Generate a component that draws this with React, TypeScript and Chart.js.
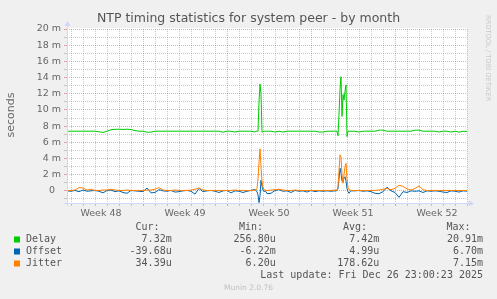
import React, { useEffect, useRef } from "react";
import { Chart, registerables } from "chart.js";

Chart.register(...registerables);

// ---- Data (hours since first midnight; values in milliseconds) ----
const HOURS = [
  -8, 0, 8, 16, 24, 32, 40, 48, 56, 64, 72, 80, 88, 96, 104, 112, 120, 128, 136, 144,
  152, 160, 168, 176, 184, 192, 200, 208, 216, 224, 232, 240, 248, 256, 264, 272, 280, 288, 296, 304,
  312, 320, 328, 336, 344, 352, 360, 368,
  370, 372, 374, 376, 378, 380, 382, 384, 386, 388, 390,
  392, 400, 408, 416, 424, 432, 440, 448, 456, 464, 472, 480, 488, 496, 504, 512, 520, 528,
  530, 532, 534, 536, 538, 540, 542, 544, 546, 548, 550, 552, 554, 556, 558, 560,
  568, 576, 584, 592, 600, 608, 616, 624, 632, 640, 648, 656, 664, 672, 680, 688, 696, 704, 712, 720,
  728, 736, 744, 752, 760, 768, 776, 784, 792,
];

const DELAY = [
  7.37, 7.37, 7.37, 7.37, 7.37, 7.37, 7.37, 7.37, 7.3, 7.22,
  7.37, 7.55, 7.6, 7.62, 7.58, 7.62, 7.58, 7.45, 7.37, 7.37,
  7.25, 7.25, 7.37, 7.37, 7.37, 7.37, 7.37, 7.37, 7.37, 7.37,
  7.37, 7.37, 7.37, 7.37, 7.37, 7.37, 7.37, 7.37, 7.37, 7.25,
  7.37, 7.37, 7.27, 7.37, 7.37, 7.37, 7.37, 7.27,
  7.37, 7.37, 7.37, 11.0, 13.2, 12.0, 7.25, 7.3, 7.37, 7.37, 7.37,
  7.37, 7.37, 7.27, 7.37, 7.27, 7.37, 7.37, 7.37, 7.37, 7.37, 7.37, 7.37, 7.37, 7.27, 7.27, 7.37, 7.37, 7.37,
  7.37, 7.37, 6.8, 9.5, 12.5, 14.1, 9.2, 11.9, 11.2, 12.3, 13.1, 6.7, 7.37, 7.37, 7.37, 7.37,
  7.37, 7.27, 7.37, 7.37, 7.37, 7.37, 7.5, 7.5, 7.37, 7.37, 7.37, 7.37, 7.37, 7.37, 7.37, 7.5, 7.5, 7.37, 7.37, 7.37,
  7.37, 7.27, 7.37, 7.37, 7.27, 7.37, 7.25, 7.37, 7.32,
];

const OFFSET = [
  0.0, -0.05, 0.05, -0.1, 0.1, -0.05, 0.0, 0.05, -0.05, -0.25,
  0.05, 0.1, -0.1, 0.0, -0.2, -0.3, 0.05, 0.0, -0.05, -0.1,
  0.35, -0.25, -0.2, 0.15, 0.0, -0.05, 0.05, -0.15, -0.1, 0.0,
  0.05, -0.05, -0.4, 0.3, -0.1, 0.0, 0.05, -0.05, -0.2, 0.0,
  0.05, -0.25, 0.0, -0.05, -0.2, -0.05, 0.05, 0.2,
  0.0, -0.1, -0.5, -1.45, -0.6, 1.3, 0.6, 0.1, -0.1, 0.0, -0.1,
  -0.35, -0.3, 0.05, 0.15, -0.05, 0.0, -0.2, 0.05, -0.05, 0.0, -0.15, 0.05, -0.1, 0.0, -0.05, 0.0, -0.05, 0.0,
  0.0, 0.05, 0.3, 1.5, 2.8, 2.2, 1.2, 1.1, 1.6, 1.75, 1.2, 0.3, -0.1, -0.3, -0.1, 0.0,
  0.0, 0.05, -0.05, 0.0, -0.1, -0.3, -0.35, -0.1, 0.45, 0.0, -0.2, -0.8, -0.1, -0.2, 0.0, -0.05, 0.0, -0.2, 0.0, -0.05,
  0.0, -0.05, -0.15, -0.2, 0.0, -0.05, -0.15, 0.0, -0.04,
];

const JITTER = [
  0.05, 0.05, 0.1, 0.4, 0.35, 0.1, 0.2, 0.05, 0.05, 0.1,
  0.1, 0.2, 0.1, 0.05, 0.05, 0.1, 0.05, 0.05, 0.05, 0.05,
  0.1, 0.1, 0.2, 0.4, 0.1, 0.05, 0.05, 0.1, 0.05, 0.05,
  0.05, 0.1, 0.2, 0.35, 0.1, 0.05, 0.05, 0.05, 0.05, 0.05,
  0.05, 0.05, 0.1, 0.05, 0.05, 0.05, 0.05, 0.1,
  0.1, 0.3, 1.5, 3.5, 5.2, 3.0, 1.2, 0.4, 0.15, 0.1, 0.05,
  0.05, 0.1, 0.15, 0.2, 0.1, 0.05, 0.05, 0.1, 0.05, 0.05, 0.05, 0.05, 0.05, 0.05, 0.05, 0.05, 0.05, 0.1,
  0.05, 0.1, 0.5, 2.5, 4.45, 4.2, 2.0, 0.95, 2.0, 3.0, 3.4, 1.5, 0.4, 0.15, 0.1, 0.05,
  0.05, 0.05, 0.05, 0.05, 0.05, 0.05, 0.1, 0.2, 0.3, 0.15, 0.3, 0.7, 0.55, 0.25, 0.1, 0.3, 0.6, 0.15, 0.05, 0.05,
  0.05, 0.05, 0.05, 0.05, 0.05, 0.05, 0.05, 0.05, 0.03,
];

const WEEK_LABELS = ["Week 48", "Week 49", "Week 50", "Week 51", "Week 52"];
const WEEK_LABEL_HOURS = [60, 228, 396, 564, 732];
const WEEK_BOUNDARY_HOURS = [144, 312, 480, 648];
const Y_TICKS = [-1, 0, 1, 2, 3, 4, 5, 6, 7, 8, 9, 10, 11, 12, 13, 14, 15, 16, 17, 18, 19, 20];

const SERIES_NAMES = ["Delay", "Offset", "Jitter"];
const SERIES_COLORS = ["#00CC00", "#0066B3", "#FF8000"];
const CUR = ["7.32m", "-39.68u", "34.39u"];
const MIN = ["256.80u", "-6.22m", "6.20u"];
const AVG = ["7.42m", "4.99u", "178.62u"];
const MAX = ["20.91m", "6.70m", "7.15m"];

const TITLE = "NTP timing statistics for system peer - by month";
const LAST_UPDATE = "Last update: Fri Dec 26 23:00:23 2025";
const FOOTER = "Munin 2.0.76";
const WATERMARK = "RRDTOOL / TOBI OETIKER";

const SANS = '"DejaVu Sans", sans-serif';
const MONO = '"DejaVu Sans Mono", monospace';
const FONT_COLOR = "#666666";
const MAJOR = "rgba(222,48,48,0.42)";
const MINOR = "rgba(140,140,140,0.45)";
const AXIS = "#CFD6F8";

export default function App() {
  const ref = useRef<HTMLCanvasElement>(null);

  useEffect(() => {
    const canvas = ref.current!;

    const rrdPlugin = {
      id: "rrd",
      beforeDraw(chart: any) {
        const ctx = chart.ctx;
        const a = chart.chartArea;
        ctx.save();
        ctx.fillStyle = "#F0F0F0";
        ctx.fillRect(0, 0, chart.width, chart.height);
        ctx.fillStyle = "#FFFFFF";
        ctx.fillRect(a.left, a.top - 1, a.right - a.left, a.bottom - a.top + 1);
        ctx.restore();
      },
      afterDraw(chart: any) {
        const ctx = chart.ctx;
        const a = chart.chartArea;
        ctx.save();
        // axes with arrows
        ctx.strokeStyle = AXIS;
        ctx.fillStyle = AXIS;
        ctx.lineWidth = 1;
        ctx.beginPath();
        ctx.moveTo(a.left - 3, Math.round(a.bottom) + 0.5);
        ctx.lineTo(a.right + 3, Math.round(a.bottom) + 0.5);
        ctx.moveTo(Math.round(a.left) + 0.5, a.bottom + 3);
        ctx.lineTo(Math.round(a.left) + 0.5, a.top - 3);
        ctx.stroke();
        const bx = a.right + 2;
        const by = Math.round(a.bottom) + 0.5;
        ctx.beginPath();
        ctx.moveTo(bx, by - 3);
        ctx.lineTo(bx + 5, by);
        ctx.lineTo(bx, by + 3);
        ctx.closePath();
        ctx.fill();
        const lx = Math.round(a.left) + 0.5;
        const ty = a.top - 3;
        ctx.beginPath();
        ctx.moveTo(lx - 3, ty);
        ctx.lineTo(lx, ty - 5);
        ctx.lineTo(lx + 3, ty);
        ctx.closePath();
        ctx.fill();

        // title
        ctx.fillStyle = "#555555";
        ctx.font = `12.5px ${SANS}`;
        ctx.textAlign = "center";
        ctx.textBaseline = "middle";
        ctx.fillText(TITLE, 248.5, 19);

        // y axis label
        ctx.save();
        ctx.translate(11, 115);
        ctx.rotate(-Math.PI / 2);
        ctx.font = `11px ${SANS}`;
        ctx.fillStyle = FONT_COLOR;
        ctx.fillText("seconds", 0, 0);
        ctx.restore();

        // watermark
        ctx.save();
        ctx.translate(488, 15);
        ctx.rotate(Math.PI / 2);
        ctx.font = `6.7px ${SANS}`;
        ctx.fillStyle = "#C8C8C8";
        ctx.textAlign = "left";
        ctx.fillText(WATERMARK, 0, 0);
        ctx.restore();

        // legend
        ctx.font = `10px ${MONO}`;
        ctx.fillStyle = "#555555";
        ctx.textAlign = "right";
        ctx.fillText("Cur:", 159.5, 227.5);
        ctx.fillText("Min:", 263, 227.5);
        ctx.fillText("Avg:", 367, 227.5);
        ctx.fillText("Max:", 470.5, 227.5);
        for (let i = 0; i < SERIES_NAMES.length; i++) {
          const y = 239.5 + i * 12;
          ctx.fillStyle = SERIES_COLORS[i];
          ctx.fillRect(14, y - 3, 6, 6);
          ctx.fillStyle = "#555555";
          ctx.textAlign = "left";
          ctx.fillText(SERIES_NAMES[i], 26, y);
          ctx.textAlign = "right";
          ctx.fillText(CUR[i], 171.7, y);
          ctx.fillText(MIN[i], 275.7, y);
          ctx.fillText(AVG[i], 379.3, y);
          ctx.fillText(MAX[i], 483, y);
        }
        ctx.fillText(LAST_UPDATE, 483, 275.5);

        // footer
        ctx.textAlign = "center";
        ctx.font = `7.5px ${SANS}`;
        ctx.fillStyle = "#C0C0C0";
        ctx.fillText(FOOTER, 248.5, 288);
        ctx.restore();
      },
    };

    const mk = (vals: number[]) => HOURS.map((h, i) => ({ x: h, y: vals[i] }));

    const chart = new Chart(canvas, {
      type: "line",
      data: {
        datasets: [
          { label: SERIES_NAMES[0], data: mk(DELAY), borderColor: SERIES_COLORS[0], order: 3 },
          { label: SERIES_NAMES[1], data: mk(OFFSET), borderColor: SERIES_COLORS[1], order: 2 },
          { label: SERIES_NAMES[2], data: mk(JITTER), borderColor: SERIES_COLORS[2], order: 1 },
        ],
      },
      options: {
        responsive: false,
        animation: false,
        devicePixelRatio: 1,
        layout: { padding: { left: 0, top: 29, right: 30, bottom: 0 } },
        elements: {
          point: { radius: 0 },
          line: { borderWidth: 1, tension: 0, fill: false },
        },
        plugins: {
          legend: { display: false },
          tooltip: { enabled: false },
          title: { display: false },
        },
        scales: {
          x: {
            type: "linear",
            min: -8,
            max: 792,
            afterFit: (s: any) => {
              s.height = 96;
            },
            afterBuildTicks: (s: any) => {
              const t: number[] = [];
              for (let h = 0; h <= 792; h += 24) t.push(h);
              WEEK_LABEL_HOURS.forEach((h) => t.push(h));
              t.sort((p, q) => p - q);
              s.ticks = t.map((v) => ({ value: v }));
            },
            grid: {
              color: (c: any) => {
                const v = c.tick ? c.tick.value : 0;
                if (v % 24 !== 0) return "rgba(0,0,0,0)";
                return WEEK_BOUNDARY_HOURS.includes(v) ? MAJOR : MINOR;
              },
              tickLength: 3,
              lineWidth: 1,
            },
            border: { display: false, dash: [1, 1] },
            ticks: {
              autoSkip: false,
              maxRotation: 0,
              minRotation: 0,
              padding: 2,
              color: FONT_COLOR,
              font: { family: SANS, size: 9.5 },
              callback: (v: any) => {
                const i = WEEK_LABEL_HOURS.indexOf(Number(v));
                return i >= 0 ? WEEK_LABELS[i] : "";
              },
            },
          },
          y: {
            type: "linear",
            min: -1.5,
            max: 20,
            afterFit: (s: any) => {
              s.width = 67;
            },
            afterBuildTicks: (s: any) => {
              s.ticks = Y_TICKS.map((v) => ({ value: v }));
            },
            grid: {
              color: (c: any) => {
                const v = c.tick ? c.tick.value : 0;
                return v % 2 === 0 ? MAJOR : MINOR;
              },
              tickLength: 3,
              lineWidth: 1,
            },
            border: { display: false, dash: [1, 1] },
            ticks: {
              autoSkip: false,
              padding: 3,
              color: FONT_COLOR,
              font: { family: SANS, size: 9.5 },
              callback: (v: any) => {
                const n = Number(v);
                if (n < 0 || n % 2 !== 0) return "";
                return n === 0 ? "0  " : `${n} m`;
              },
            },
          },
        },
      },
      plugins: [rrdPlugin],
    } as any);

    return () => chart.destroy();
  }, []);

  return (
    <div style={{ position: "fixed", left: 0, top: 0, width: 497, height: 299 }}>
      <canvas ref={ref} width={497} height={299} style={{ display: "block", width: 497, height: 299 }} />
    </div>
  );
}
